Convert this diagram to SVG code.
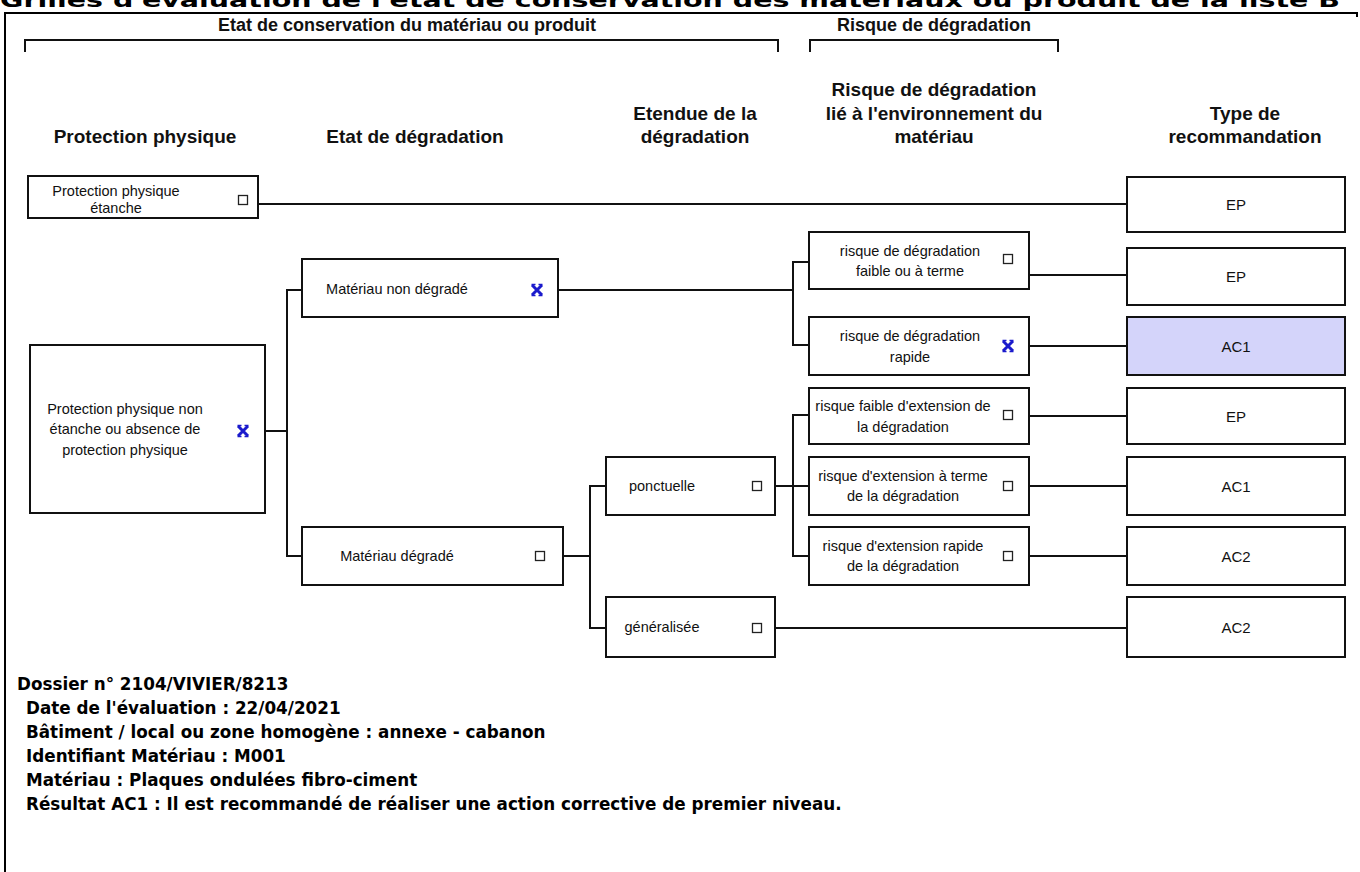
<svg xmlns="http://www.w3.org/2000/svg" width="1360" height="872" viewBox="0 0 1360 872">
<style>
.box{fill:#fff;stroke:#111;stroke-width:2}
.res{fill:#fff;stroke:#111;stroke-width:2}
.sel{fill:#d4d4fa}
.hd{font-family:"Liberation Sans",Arial,sans-serif;font-weight:bold;font-size:19px;fill:#111;text-anchor:middle}
.bh{font-family:"Liberation Sans",Arial,sans-serif;font-weight:bold;font-size:18px;fill:#111;text-anchor:middle}
.nt{font-family:"Liberation Sans",Arial,sans-serif;font-size:14.5px;fill:#111;text-anchor:middle}
.rt{font-family:"Liberation Sans",Arial,sans-serif;font-size:15px;fill:#111;text-anchor:middle}
.cb{fill:#fff;stroke:#222;stroke-width:1.3}
.xm{stroke:#1a1acc;stroke-width:3;fill:none;stroke-linecap:butt}
.ln{stroke:#111;stroke-width:2;fill:none}
.info{font-family:"DejaVu Sans",Verdana,sans-serif;font-weight:bold;font-size:16.8px;fill:#000}
</style>
<defs>
<g id="chk"><rect class="cb" x="-4.5" y="-4.5" width="9" height="9"/></g>
<g id="xchk"><path d="M-5.5,-5.5 H-1.5 M1.5,-5.5 H5.5 M-5.5,5.5 H-1.5 M1.5,5.5 H5.5" stroke="#1a1acc" stroke-width="1.4"/><path class="xm" d="M-5,-5 L5,5 M5,-5 L-5,5"/></g>
</defs>
<rect width="1360" height="872" fill="#fff"/>
<text x="0" y="7" font-family="DejaVu Sans,Verdana,sans-serif" font-weight="bold" font-size="20" textLength="1340" lengthAdjust="spacingAndGlyphs">Grilles d'évaluation de l'état de conservation des matériaux ou produit de la liste B</text>
<path d="M5,872 V13 H1357 V17" stroke="#000" stroke-width="2" fill="none"/>
<g id="headers">
<text class="bh" x="407" y="31">Etat de conservation du matériau ou produit</text>
<path class="ln" d="M25,52 V40 H778 V52"/>
<text class="bh" x="934" y="31">Risque de dégradation</text>
<path class="ln" d="M810,52 V40 H1058 V52"/>
<text class="hd" x="145" y="143">Protection physique</text>
<text class="hd" x="415" y="143">Etat de dégradation</text>
<text class="hd" x="695" y="120">Etendue de la</text>
<text class="hd" x="695" y="143">dégradation</text>
<text class="hd" x="934" y="96">Risque de dégradation</text>
<text class="hd" x="934" y="120">lié à l'environnement du</text>
<text class="hd" x="934" y="143">matériau</text>
<text class="hd" x="1245" y="120">Type de</text>
<text class="hd" x="1245" y="143">recommandation</text>
</g>
<g id="connectors">
<path class="ln" d="M258,204 H1127"/>
<path class="ln" d="M265,431 H287 M302,290 H287 V556 H302"/>
<path class="ln" d="M558,290 H793 M809,262 H793 V345 H809"/>
<path class="ln" d="M563,556 H590 M606,486 H590 V628 H606"/>
<path class="ln" d="M775,486 H809 M809,415 H793 V556 H809"/>
<path class="ln" d="M775,628 H1127"/>
<path class="ln" d="M1029,275 H1127 M1029,346 H1127 M1029,416 H1127 M1029,486 H1127 M1029,556 H1127"/>
</g>
<g id="n1"><rect class="box" x="28" y="176" width="230" height="42"/><text class="nt" x="116" y="196">Protection physique</text><text class="nt" x="116" y="213">étanche</text><use href="#chk" x="243" y="200"/></g>
<g id="n2"><rect class="box" x="30" y="345" width="235" height="168"/><text class="nt" x="125" y="414">Protection physique non</text><text class="nt" x="125" y="434">étanche ou absence de</text><text class="nt" x="125" y="455">protection physique</text><use href="#xchk" x="243" y="431"/></g>
<g id="n3"><rect class="box" x="302" y="259" width="256" height="58"/><text class="nt" x="397" y="294">Matériau non dégradé</text><use href="#xchk" x="537" y="290"/></g>
<g id="n4"><rect class="box" x="302" y="527" width="261" height="58"/><text class="nt" x="397" y="561">Matériau dégradé</text><use href="#chk" x="540" y="556"/></g>
<g id="n5"><rect class="box" x="606" y="457" width="169" height="58"/><text class="nt" x="662" y="491">ponctuelle</text><use href="#chk" x="757" y="486"/></g>
<g id="n6"><rect class="box" x="606" y="597" width="169" height="60"/><text class="nt" x="662" y="632">généralisée</text><use href="#chk" x="757" y="628"/></g>
<g id="n7"><rect class="box" x="809" y="232" width="220" height="57"/><text class="nt" x="910" y="256">risque de dégradation</text><text class="nt" x="910" y="276">faible ou à terme</text><use href="#chk" x="1008" y="259"/></g>
<g id="n8"><rect class="box" x="809" y="317" width="220" height="58"/><text class="nt" x="910" y="341">risque de dégradation</text><text class="nt" x="910" y="362">rapide</text><use href="#xchk" x="1008" y="346"/></g>
<g id="n9"><rect class="box" x="809" y="388" width="220" height="56"/><text class="nt" x="903" y="411">risque faible d'extension de</text><text class="nt" x="903" y="432">la dégradation</text><use href="#chk" x="1008" y="415"/></g>
<g id="n10"><rect class="box" x="809" y="457" width="220" height="58"/><text class="nt" x="903" y="481">risque d'extension à terme</text><text class="nt" x="903" y="501">de la dégradation</text><use href="#chk" x="1008" y="486"/></g>
<g id="n11"><rect class="box" x="809" y="527" width="220" height="58"/><text class="nt" x="903" y="551">risque d'extension rapide</text><text class="nt" x="903" y="571">de la dégradation</text><use href="#chk" x="1008" y="556"/></g>
<g id="r1"><rect class="res" x="1127" y="177" width="218" height="55"/><text class="rt" x="1236" y="210">EP</text></g>
<g id="r2"><rect class="res" x="1127" y="248" width="218" height="57"/><text class="rt" x="1236" y="282">EP</text></g>
<g id="r3"><rect class="res sel" x="1127" y="317" width="218" height="58"/><text class="rt" x="1236" y="352">AC1</text></g>
<g id="r4"><rect class="res" x="1127" y="388" width="218" height="56"/><text class="rt" x="1236" y="422">EP</text></g>
<g id="r5"><rect class="res" x="1127" y="457" width="218" height="58"/><text class="rt" x="1236" y="492">AC1</text></g>
<g id="r6"><rect class="res" x="1127" y="527" width="218" height="58"/><text class="rt" x="1236" y="562">AC2</text></g>
<g id="r7"><rect class="res" x="1127" y="597" width="218" height="60"/><text class="rt" x="1236" y="633">AC2</text></g>
<g id="info">
<text class="info" x="17" y="690">Dossier n° 2104/VIVIER/8213</text>
<text class="info" x="26" y="714">Date de l'évaluation : 22/04/2021</text>
<text class="info" x="26" y="738">Bâtiment / local ou zone homogène : annexe - cabanon</text>
<text class="info" x="26" y="762">Identifiant Matériau : M001</text>
<text class="info" x="26" y="786">Matériau : Plaques ondulées fibro-ciment</text>
<text class="info" x="26" y="810">Résultat AC1 : Il est recommandé de réaliser une action corrective de premier niveau.</text>
</g>
</svg>
